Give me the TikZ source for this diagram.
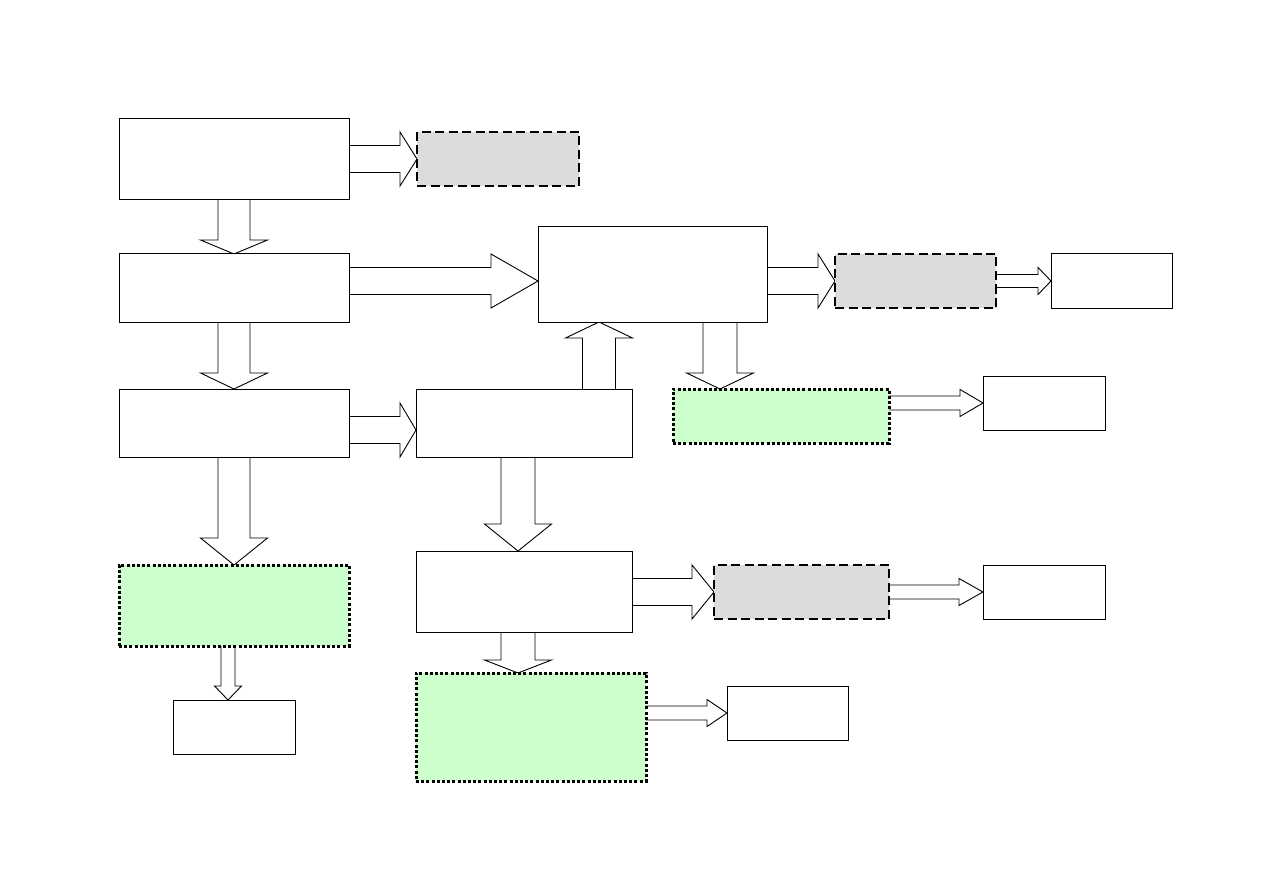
\documentclass[tikz,border=0pt]{standalone}
\usetikzlibrary{calc,backgrounds}
\definecolor{boxgray}{HTML}{DCDCDC}
\definecolor{boxgreen}{HTML}{CCFFCC}
\tikzset{
  base/.style={rectangle, inner sep=0pt, outer sep=0pt},
  wbox/.style={base, draw=black, line width=1pt, fill=white},
  gbox/.style={base, draw=black, line width=2.6pt, fill=boxgray, dash pattern=on 9pt off 4.5pt},
  grbox/.style={base, draw=black, line width=3pt, fill=boxgreen, dash pattern=on 3pt off 2.2pt},
  barrow/.style={draw=black, fill=white, line width=0.9pt, line join=miter}
}
\newcommand\bx[6]{\node[#2, minimum width={(#5-#3)*1pt}, minimum height={(#6-#4)*1pt}] (#1) at ({(#3+#5)/2},{(#4+#6)/2}) {};}
% right arrow: src, tip, half shaft, half head, head length
\newcommand\rarr[5]{\filldraw[barrow] let \p1=(#1), \p2=(#2) in
  (\x1,\y2+#3pt) -- (\x2-#5pt,\y2+#3pt) -- (\x2-#5pt,\y2+#4pt) -- (\x2,\y2) -- (\x2-#5pt,\y2-#4pt) -- (\x2-#5pt,\y2-#3pt) -- (\x1,\y2-#3pt);}
\newcommand\darr[5]{\filldraw[barrow] let \p1=(#1), \p2=(#2) in
  (\x2-#3pt,\y1) -- (\x2-#3pt,\y2+#5pt) -- (\x2-#4pt,\y2+#5pt) -- (\x2,\y2) -- (\x2+#4pt,\y2+#5pt) -- (\x2+#3pt,\y2+#5pt) -- (\x2+#3pt,\y1);}
\newcommand\uarr[5]{\filldraw[barrow] let \p1=(#1), \p2=(#2) in
  (\x2-#3pt,\y1) -- (\x2-#3pt,\y2-#5pt) -- (\x2-#4pt,\y2-#5pt) -- (\x2,\y2) -- (\x2+#4pt,\y2-#5pt) -- (\x2+#3pt,\y2-#5pt) -- (\x2+#3pt,\y1);}
\begin{document}
\begin{tikzpicture}[x=1pt,y=-1pt]
\useasboundingbox (0,0) rectangle (1263,893);
% boxes
\bx{A}{wbox}{119}{119}{349}{200}
\bx{G1}{gbox}{417}{132}{579}{186}
\bx{B}{wbox}{119}{254}{349}{322}
\bx{C}{wbox}{538}{227}{767}{322}
\bx{G2}{gbox}{835}{254}{996}{308}
\bx{W1}{wbox}{1051}{254}{1172}{308}
\bx{D}{wbox}{119}{389}{349}{457}
\bx{E}{wbox}{416}{389}{632}{457}
\bx{Gr1}{grbox}{673}{389}{889}{443}
\bx{W2}{wbox}{983}{376}{1105}{430}
\bx{Gr2}{grbox}{119}{565}{349}{646}
\bx{W3}{wbox}{173}{700}{295}{754}
\bx{F}{wbox}{416}{551}{632}{632}
\bx{G3}{gbox}{714}{565}{889}{619}
\bx{W4}{wbox}{983}{565}{1105}{619}
\bx{Gr3}{grbox}{416}{673}{646}{781}
\bx{W5}{wbox}{727}{686}{848}{740}
% block arrows
\begin{scope}[on background layer]
\rarr{A.east}{G1.west}{13.5}{27}{17}
\darr{A.south}{B.north}{16}{33.5}{14}
\rarr{B.east}{[yshift=-6.5pt]C.west}{13.5}{27}{47}
\darr{B.south}{D.north}{16}{33.5}{16}
\rarr{C.east}{G2.west}{13.5}{27}{17}
\rarr{G2.east}{W1.west}{6.5}{13.5}{13}
\rarr{D.east}{[yshift=-7pt]E.west}{13.5}{27}{16}
\darr{D.south}{Gr2.north}{16}{33.5}{27}
\uarr{E.north}{[xshift=-53.5pt]C.south}{16.5}{33.5}{16}
\darr{C.south}{[xshift=-61pt]Gr1.north}{17}{33.5}{16}
\rarr{Gr1.east}{W2.west}{7}{13.5}{23}
\darr{E.south}{[xshift=-6pt]F.north}{17}{33.5}{27}
\rarr{F.east}{G3.west}{13.5}{27}{22}
\rarr{G3.east}{W4.west}{7}{13.5}{24}
\darr{Gr2.south}{[xshift=-6pt]W3.north}{7}{13.5}{14}
\darr{F.south}{[xshift=-13pt]Gr3.north}{17}{33.5}{13}
\rarr{Gr3.east}{W5.west}{7}{13.5}{20}
\end{scope}
\end{tikzpicture}
\end{document}
